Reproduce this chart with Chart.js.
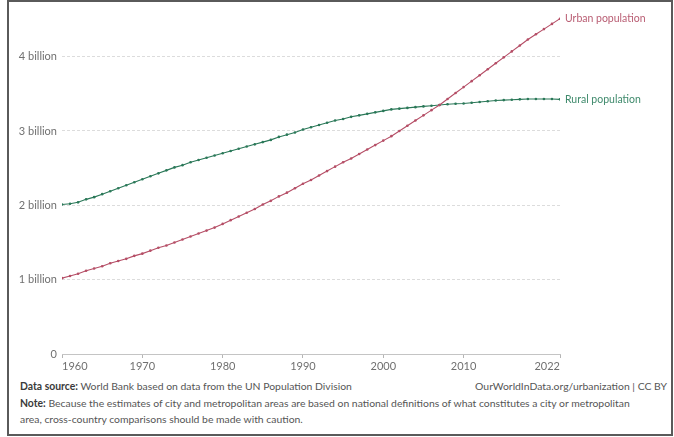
<!DOCTYPE html>
<html>
<head>
<meta charset="utf-8">
<script src="https://cdn.jsdelivr.net/npm/chart.js@4/dist/chart.umd.min.js"></script>
<style>
  html, body { margin: 0; padding: 0; background: #fff; }
  body { width: 674px; height: 437px; position: relative; overflow: hidden; font-family: Lato, "Noto Sans", sans-serif; }
  #frame { position: absolute; left: 7px; top: 0; border: 2px solid #5a5a5a; box-sizing: border-box; width: 666px; height: 436px; }
  #wrap { position: absolute; left: 0; top: 0; width: 674px; height: 380px; }
  .foot { position: absolute; left: 20px; font-size: 10.4px; color: #555; white-space: nowrap; line-height: 12px; }
  .foot b { color: #3a3a3a; font-weight: 700; }
  #src { top: 380px; }
  #lic { top: 380px; left: auto; right: 7px; }
  #note { top: 397px; }
  #note2 { top: 413px; }
</style>
</head>
<body>
<div id="frame"></div>
<div id="wrap"><canvas id="myChart"></canvas></div>
<div class="foot" id="src"><b>Data source:</b> World Bank based on data from the UN Population Division</div>
<div class="foot" id="lic">OurWorldInData.org/urbanization | CC BY</div>
<div class="foot" id="note"><b>Note:</b> Because the estimates of city and metropolitan areas are based on national definitions of what constitutes a city or metropolitan</div>
<div class="foot" id="note2">area, cross-country comparisons should be made with caution.</div>
<script>
var years = [];
for (var y = 1960; y <= 2022; y++) years.push(y);

// billions
var urban = [
  1.02, 1.05, 1.08, 1.12, 1.15, 1.18, 1.22, 1.25, 1.28, 1.32,
  1.35, 1.39, 1.43, 1.46, 1.50, 1.54, 1.58, 1.62, 1.66, 1.70,
  1.75, 1.80, 1.85, 1.90, 1.95, 2.01, 2.06, 2.12, 2.17, 2.23,
  2.29, 2.34, 2.40, 2.46, 2.52, 2.58, 2.63, 2.69, 2.75, 2.81,
  2.87, 2.93, 3.00, 3.07, 3.14, 3.21, 3.28, 3.35, 3.43, 3.51,
  3.59, 3.67, 3.75, 3.83, 3.91, 3.99, 4.07, 4.15, 4.23, 4.30,
  4.37, 4.44, 4.51
];
var rural = [
  2.01, 2.02, 2.04, 2.08, 2.11, 2.15, 2.19, 2.23, 2.27, 2.31,
  2.35, 2.39, 2.43, 2.47, 2.51, 2.54, 2.58, 2.61, 2.64, 2.67,
  2.70, 2.73, 2.76, 2.79, 2.82, 2.85, 2.88, 2.92, 2.95, 2.98,
  3.02, 3.05, 3.08, 3.11, 3.14, 3.16, 3.19, 3.21, 3.23, 3.25,
  3.27, 3.29, 3.30, 3.31, 3.32, 3.33, 3.34, 3.35, 3.36, 3.365,
  3.37, 3.38, 3.39, 3.40, 3.41, 3.415, 3.42, 3.425, 3.43, 3.43,
  3.43, 3.43, 3.425
];
var seriesNames = ["Urban population", "Rural population"];
var lineColors = ["#b54e66", "#2a7858"];
var labelColors = ["#b95d73", "#3f8a6c"];
var xTicks = [1960, 1970, 1980, 1990, 2000, 2010, 2022];
var yTicks = [0, 1, 2, 3, 4];
var yTickLabels = ["0", "1 billion", "2 billion", "3 billion", "4 billion"];

function pts(arr) {
  return arr.map(function (v, i) { return { x: years[i], y: v }; });
}

var endLabels = {
  id: "endLabels",
  afterDatasetsDraw: function (chart) {
    var ctx = chart.ctx;
    ctx.save();
    ctx.font = "10.5px Lato, sans-serif";
    ctx.textBaseline = "middle";
    chart.data.datasets.forEach(function (ds, i) {
      var meta = chart.getDatasetMeta(i);
      var last = meta.data[meta.data.length - 1];
      ctx.fillStyle = labelColors[i];
      ctx.fillText(ds.label, last.x + 5, last.y);
    });
    ctx.restore();
  }
};

new Chart("myChart", {
  type: "line",
  data: {
    datasets: [
      {
        label: seriesNames[0],
        data: pts(urban),
        borderColor: lineColors[0],
        backgroundColor: lineColors[0],
        borderWidth: 1.1,
        pointRadius: 1.3,
        pointBorderWidth: 0,
        tension: 0
      },
      {
        label: seriesNames[1],
        data: pts(rural),
        borderColor: lineColors[1],
        backgroundColor: lineColors[1],
        borderWidth: 1.1,
        pointRadius: 1.3,
        pointBorderWidth: 0,
        tension: 0
      }
    ]
  },
  options: {
    responsive: true,
    maintainAspectRatio: false,
    animation: false,
    layout: { padding: { left: 0, right: 114, top: 12, bottom: 0 } },
    plugins: {
      legend: { display: false },
      tooltip: { enabled: false },
      title: { display: false }
    },
    scales: {
      x: {
        type: "linear",
        min: 1960,
        max: 2022,
        afterBuildTicks: function (s) {
          s.ticks = xTicks.map(function (v) { return { value: v }; });
        },
        afterFit: function (s) { s.height = 26; },
        grid: { drawOnChartArea: false, tickLength: 4, color: "#b5b5b5" },
        border: { display: true, color: "#c4c4c4", width: 1 },
        ticks: {
          align: "inner",
          padding: 2,
          maxRotation: 0,
          color: "#707070",
          font: { family: "Lato", size: 11 },
          callback: function (v) { return String(v); }
        }
      },
      y: {
        min: 0,
        max: 4.6,
        afterBuildTicks: function (s) {
          s.ticks = yTicks.map(function (v) { return { value: v }; });
        },
        afterFit: function (s) { s.width = 62; },
        grid: {
          drawTicks: false,
          color: function (c) { return c.tick && c.tick.value === 0 ? "rgba(0,0,0,0)" : "#dcdcdc"; },
          lineWidth: 1
        },
        border: { display: false, dash: [3, 2] },
        ticks: {
          padding: 5,
          color: "#707070",
          font: { family: "Lato", size: 11 },
          callback: function (v) {
            var k = yTicks.indexOf(v);
            return k >= 0 ? yTickLabels[k] : "";
          }
        }
      }
    }
  },
  plugins: [endLabels]
});
</script>
</body>
</html>
